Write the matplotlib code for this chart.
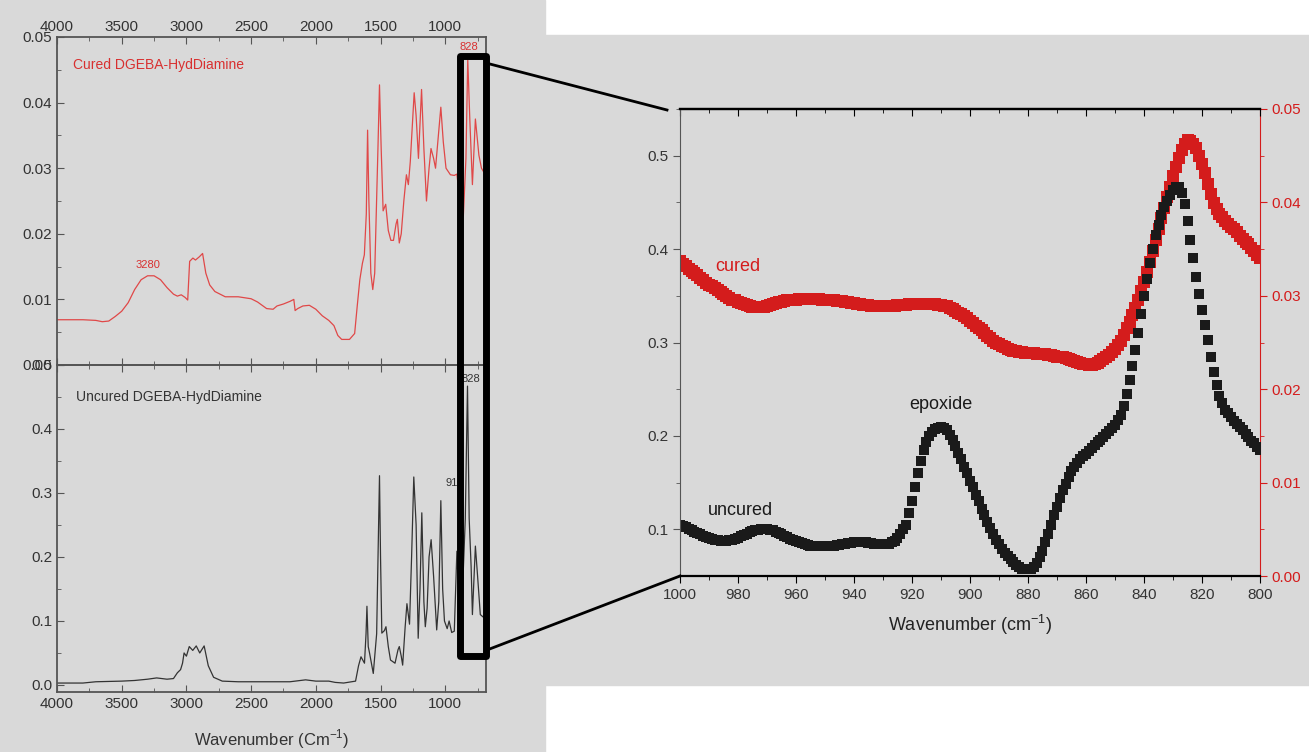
import numpy as np
import matplotlib
matplotlib.use("Agg")
import matplotlib.pyplot as plt
from matplotlib.patches import Rectangle
from matplotlib.lines import Line2D
from matplotlib.ticker import MultipleLocator, FormatStrFormatter

plt.rcParams['font.family'] = ['Liberation Sans', 'DejaVu Sans']

# ---- overview spectra (left panels) ----
cured_wn = [4000, 3900, 3800, 3700, 3650, 3600, 3550, 3500, 3450, 3400, 3350, 3300, 3250, 3200,
            3150, 3100, 3070, 3040, 3010, 2990, 2975, 2950, 2930, 2900, 2875, 2850, 2820, 2780,
            2700, 2600, 2500, 2450, 2380, 2330, 2300, 2250, 2200, 2170, 2160, 2140, 2100, 2050,
            2000, 1950, 1900, 1860, 1830, 1800, 1740, 1700, 1680, 1660, 1640, 1625, 1610, 1600,
            1590, 1575, 1560, 1545, 1520, 1508, 1495, 1480, 1460, 1440, 1420, 1400, 1380, 1370,
            1355, 1340, 1320, 1300, 1285, 1270, 1240, 1225, 1207, 1183, 1165, 1145, 1125, 1110,
            1090, 1075, 1034, 1015, 994, 960, 930, 910, 880, 860, 840, 826, 810, 790, 767, 740,
            720, 690]
cured_abs = [0.0069, 0.0069, 0.0069, 0.0068, 0.0066, 0.0067, 0.0074, 0.0082, 0.0095, 0.0115,
             0.0130, 0.0136, 0.0136, 0.0130, 0.0118, 0.0108, 0.0105, 0.0107, 0.0103, 0.0099,
             0.0158, 0.0163, 0.0160, 0.0165, 0.0170, 0.0140, 0.0122, 0.0112, 0.0104, 0.0104,
             0.0101, 0.0096, 0.0086, 0.0085, 0.0090, 0.0093, 0.0097, 0.0100, 0.0083, 0.0086,
             0.0090, 0.0091, 0.0085, 0.0075, 0.0068, 0.0060, 0.0045, 0.0039, 0.0039, 0.0048,
             0.0090, 0.0130, 0.0155, 0.0168, 0.0230, 0.0358, 0.0250, 0.0140, 0.0115, 0.0140,
             0.0330, 0.0427, 0.0330, 0.0235, 0.0245, 0.0205, 0.0190, 0.0190, 0.0215, 0.0222,
             0.0186, 0.0200, 0.0250, 0.0290, 0.0275, 0.0310, 0.0415, 0.0380, 0.0315, 0.0420,
             0.0330, 0.0250, 0.0300, 0.0330, 0.0315, 0.0300, 0.0393, 0.0340, 0.0300, 0.0290,
             0.0289, 0.0291, 0.0239, 0.0227, 0.0315, 0.0466, 0.0374, 0.0275, 0.0375, 0.0320,
             0.0300, 0.0290]

uncured_wn = [4000, 3800, 3700, 3500, 3400, 3300, 3230, 3150, 3100, 3070, 3045, 3030, 3018, 3000,
              2978, 2951, 2924, 2897, 2863, 2831, 2790, 2723, 2600, 2400, 2200, 2079, 2000, 1900,
              1850, 1785, 1693, 1670, 1651, 1624, 1612, 1605, 1595, 1585, 1556, 1530, 1515, 1508,
              1500, 1490, 1470, 1458, 1440, 1423, 1388, 1365, 1355, 1340, 1329, 1310, 1296, 1276,
              1260, 1243, 1225, 1209, 1195, 1181, 1165, 1154, 1140, 1125, 1109, 1090, 1066, 1050,
              1034, 1020, 1006, 985, 970, 950, 930, 910, 880, 860, 845, 828, 815, 800, 790, 767,
              750, 729, 700]
uncured_abs = [0.003, 0.003, 0.005, 0.006, 0.007, 0.009, 0.011, 0.009, 0.010, 0.019, 0.024, 0.034,
               0.050, 0.045, 0.060, 0.054, 0.061, 0.050, 0.061, 0.030, 0.012, 0.006, 0.005, 0.005,
               0.005, 0.008, 0.006, 0.006, 0.004, 0.003, 0.006, 0.030, 0.044, 0.034, 0.080, 0.123,
               0.060, 0.050, 0.018, 0.080, 0.250, 0.327, 0.200, 0.081, 0.085, 0.091, 0.060, 0.039,
               0.034, 0.055, 0.060, 0.045, 0.031, 0.090, 0.127, 0.095, 0.200, 0.325, 0.250, 0.073,
               0.150, 0.269, 0.130, 0.091, 0.120, 0.200, 0.227, 0.170, 0.086, 0.130, 0.288, 0.150,
               0.100, 0.088, 0.100, 0.082, 0.084, 0.209, 0.057, 0.181, 0.260, 0.467, 0.260, 0.185,
               0.110, 0.217, 0.170, 0.110, 0.105]

# ---- zoomed region 1000-800 cm-1 (right panel), 1 cm-1 steps ----
zoom_wn = np.arange(1000, 799, -1)
zoom_uncured = [
    0.105, 0.1035, 0.102, 0.1005, 0.099, 0.0975, 0.096, 0.0945, 0.093, 0.092,
    0.091, 0.090, 0.089, 0.0885, 0.088, 0.088, 0.088, 0.0885, 0.089, 0.090,
    0.091, 0.0925, 0.094, 0.0955, 0.097, 0.098, 0.099, 0.0995, 0.100, 0.100,
    0.100, 0.0995, 0.099, 0.0975, 0.096, 0.0945, 0.093, 0.0915, 0.090, 0.0885,
    0.087, 0.086, 0.085, 0.084, 0.083, 0.0825, 0.082, 0.082, 0.082, 0.082,
    0.082, 0.082, 0.082, 0.0825, 0.083, 0.0835, 0.084, 0.0845, 0.085, 0.0855,
    0.086, 0.086, 0.086, 0.086, 0.086, 0.0855, 0.085, 0.0845, 0.084, 0.084,
    0.084, 0.084, 0.084, 0.086, 0.088, 0.091, 0.095, 0.100, 0.105, 0.117,
    0.130, 0.145, 0.160, 0.173, 0.185, 0.193, 0.200, 0.204, 0.207, 0.208,
    0.209, 0.208, 0.206, 0.201, 0.196, 0.189, 0.182, 0.175, 0.167, 0.160,
    0.152, 0.145, 0.137, 0.130, 0.122, 0.115, 0.108, 0.101, 0.095, 0.089,
    0.084, 0.079, 0.075, 0.071, 0.068, 0.065, 0.062, 0.060, 0.058, 0.057,
    0.057, 0.058, 0.060, 0.064, 0.070, 0.077, 0.086, 0.095, 0.105, 0.115,
    0.124, 0.133, 0.142, 0.149, 0.156, 0.162, 0.167, 0.171, 0.175, 0.178,
    0.181, 0.184, 0.187, 0.190, 0.193, 0.196, 0.199, 0.202, 0.205, 0.208,
    0.212, 0.217, 0.222, 0.232, 0.245, 0.260, 0.275, 0.292, 0.310, 0.330,
    0.350, 0.368, 0.385, 0.400, 0.415, 0.426, 0.437, 0.445, 0.452, 0.458,
    0.463, 0.466, 0.467, 0.460, 0.448, 0.430, 0.410, 0.390, 0.370, 0.352,
    0.335, 0.319, 0.303, 0.285, 0.268, 0.255, 0.243, 0.235, 0.228, 0.224,
    0.220, 0.216, 0.213, 0.209, 0.206, 0.202, 0.199, 0.195, 0.192, 0.188,
    0.185]
zoom_cured = [
    0.0337, 0.0334, 0.0332, 0.0329, 0.0327, 0.0324, 0.0322, 0.0319, 0.0317, 0.0314,
    0.0312, 0.0310, 0.0308, 0.0306, 0.0304, 0.0302, 0.0300, 0.0298, 0.0296, 0.0295,
    0.0293, 0.0292, 0.0291, 0.0290, 0.0289, 0.0288, 0.0288, 0.0288, 0.0288, 0.0288,
    0.0289, 0.0290, 0.0291, 0.0292, 0.0293, 0.0293, 0.0294, 0.0295, 0.0295, 0.0296,
    0.0296, 0.0297, 0.0297, 0.0297, 0.0297, 0.0297, 0.0297, 0.0297, 0.0297, 0.0296,
    0.0296, 0.0296, 0.0295, 0.0295, 0.0294, 0.0294, 0.0294, 0.0293, 0.0293, 0.0292,
    0.0292, 0.0291, 0.0291, 0.0290, 0.0290, 0.0290, 0.0289, 0.0289, 0.0289, 0.0289,
    0.0289, 0.0289, 0.0289, 0.0289, 0.0289, 0.0290, 0.0290, 0.0290, 0.0290, 0.0291,
    0.0291, 0.0291, 0.0291, 0.0291, 0.0291, 0.0291, 0.0291, 0.0291, 0.0291, 0.0290,
    0.0290, 0.0289, 0.0289, 0.0287, 0.0286, 0.0284, 0.0282, 0.0280, 0.0278, 0.0276,
    0.0273, 0.0271, 0.0268, 0.0266, 0.0263, 0.0260, 0.0257, 0.0255, 0.0252, 0.0250,
    0.0248, 0.0246, 0.0245, 0.0243, 0.0242, 0.0241, 0.0241, 0.0240, 0.0240, 0.0239,
    0.0239, 0.0239, 0.0239, 0.0238, 0.0238, 0.0238, 0.0238, 0.0237, 0.0237, 0.0236,
    0.0235, 0.0234, 0.0234, 0.0233, 0.0232, 0.0231, 0.0230, 0.0229, 0.0228, 0.0227,
    0.0227, 0.0226, 0.0226, 0.0227, 0.0228, 0.0230, 0.0232, 0.0234, 0.0237, 0.0240,
    0.0243, 0.0247, 0.0252, 0.0258, 0.0265, 0.0272, 0.0279, 0.0287, 0.0296, 0.0305,
    0.0315, 0.0325, 0.0336, 0.0348, 0.0360, 0.0371, 0.0383, 0.0394, 0.0406, 0.0417,
    0.0428, 0.0438, 0.0448, 0.0456, 0.0463, 0.0467, 0.0466, 0.0463, 0.0458, 0.0450,
    0.0441, 0.0431, 0.0420, 0.0409, 0.0399, 0.0393, 0.0388, 0.0384, 0.0380, 0.0377,
    0.0374, 0.0371, 0.0368, 0.0364, 0.0361, 0.0358, 0.0355, 0.0351, 0.0348, 0.0344,
    0.0340]

bg = '#d9d9d9'
red = '#d41c1c'
W, H = 1309, 752


def fr(x0, y0, x1, y1):
    # pixel box (top-left origin) -> figure fraction rect
    return [x0 / W, 1 - y1 / H, (x1 - x0) / W, (y1 - y0) / H]


fig = plt.figure(figsize=(W / 100, H / 100), dpi=100)
fig.patch.set_facecolor('white')
fig.add_artist(Rectangle((0, 0), 545 / W, 1, transform=fig.transFigure, color=bg, zorder=-5))
fig.add_artist(Rectangle((545 / W, 1 - 685 / H), 764 / W, 650 / H, transform=fig.transFigure,
                         color=bg, zorder=-5))

# ---- left: overview panels ----
ax1 = fig.add_axes(fr(57, 37, 486, 365))
ax2 = fig.add_axes(fr(57, 365, 486, 692))
for ax in (ax1, ax2):
    ax.set_facecolor('none')
    ax.set_xlim(4000, 685)
    ax.xaxis.set_major_locator(MultipleLocator(500))
    ax.xaxis.set_minor_locator(MultipleLocator(250))
    for s in ax.spines.values():
        s.set_color('#555555')
        s.set_linewidth(1.3)
    ax.tick_params(which='both', direction='in', top=True, bottom=True, left=True,
                   right=False, colors='#555555', labelcolor='#333333', labelsize=11)
    ax.tick_params(which='major', length=5)
    ax.tick_params(which='minor', length=3)

ax1.plot(cured_wn, cured_abs, color='#e04848', lw=0.9)
ax1.set_ylim(0, 0.05)
ax1.yaxis.set_major_locator(MultipleLocator(0.01))
ax1.yaxis.set_minor_locator(MultipleLocator(0.005))
ax1.yaxis.set_major_formatter(FormatStrFormatter('%.2f'))
ax1.tick_params(axis='x', labeltop=True, labelbottom=False, pad=2)
ax1.text(0.037, 0.915, 'Cured DGEBA-HydDiamine', transform=ax1.transAxes, color='#d83030',
         fontsize=10, va='center')
ax1.text(3298, 0.0152, '3280', color='#d83030', fontsize=8, ha='center', va='center')
ax1.text(815, 0.0485, '828', color='#d83030', fontsize=8, ha='center', va='center')

ax2.plot(uncured_wn, uncured_abs, color='#333333', lw=0.9)
ax2.set_ylim(-0.011, 0.5)
ax2.yaxis.set_major_locator(MultipleLocator(0.1))
ax2.yaxis.set_minor_locator(MultipleLocator(0.05))
ax2.yaxis.set_major_formatter(FormatStrFormatter('%.1f'))
ax2.text(0.045, 0.902, 'Uncured DGEBA-HydDiamine', transform=ax2.transAxes, color='#333333',
         fontsize=10, va='center')
ax2.text(925, 0.315, '910', color='#333333', fontsize=8, ha='center', va='center')
ax2.text(800, 0.478, '828', color='#333333', fontsize=8, ha='center', va='center')
ax2.set_xlabel('Wavenumber (Cm$^{\\mathregular{-1}}$)', fontsize=12, color='#333333', labelpad=12)

# ---- right: zoomed region ----
ax3 = fig.add_axes(fr(680, 109, 1260, 576))
ax4 = ax3.twinx()
ax3.set_zorder(ax4.get_zorder() + 1)
ax3.set_facecolor('none')
ax4.set_facecolor('none')

ax4.plot(zoom_wn, zoom_cured, 's', ms=8.5, color=red, mew=0)
ax3.plot(zoom_wn, zoom_uncured, 's', ms=7, color='#1a1a1a', mew=0)

ax3.set_xlim(1000, 800)
ax3.set_ylim(0.05, 0.55)
ax4.set_ylim(0, 0.05)
ax3.xaxis.set_major_locator(MultipleLocator(20))
ax3.xaxis.set_minor_locator(MultipleLocator(10))
ax3.yaxis.set_major_locator(MultipleLocator(0.1))
ax3.yaxis.set_minor_locator(MultipleLocator(0.05))
ax4.yaxis.set_major_locator(MultipleLocator(0.01))
ax4.yaxis.set_minor_locator(MultipleLocator(0.005))
ax4.yaxis.set_major_formatter(FormatStrFormatter('%.2f'))

ax3.spines['right'].set_visible(False)
ax3.spines['left'].set_color('#555555')
ax3.spines['top'].set_linewidth(1.6)
ax3.spines['bottom'].set_linewidth(1.6)
for k in ('left', 'top', 'bottom'):
    ax4.spines[k].set_visible(False)
ax4.spines['right'].set_color(red)

ax3.tick_params(axis='x', which='both', direction='out', labelsize=11, labelcolor='#333333')
ax3.tick_params(axis='y', which='both', direction='out', labelsize=11, colors='#555555',
                labelcolor='#333333')
ax3.tick_params(which='major', length=5)
ax3.tick_params(which='minor', length=3)
ax4.tick_params(axis='y', which='both', direction='out', labelsize=11, colors=red)
ax4.tick_params(which='major', length=5)
ax4.tick_params(which='minor', length=3)

top = ax3.secondary_xaxis('top')
top.xaxis.set_major_locator(MultipleLocator(20))
top.xaxis.set_minor_locator(MultipleLocator(10))
top.tick_params(which='both', direction='in', labeltop=False)
top.tick_params(which='major', length=5)
top.tick_params(which='minor', length=3)
top.spines['top'].set_linewidth(1.6)

ax3.text(988, 0.381, 'cured', color=red, fontsize=13, va='center')
ax3.text(990.3, 0.120, 'uncured', color='#1a1a1a', fontsize=13, va='center')
ax3.text(910, 0.234, 'epoxide', color='#1a1a1a', fontsize=13, ha='center', va='center')
ax3.set_xlabel('Wavenumber (cm$^{\\mathregular{-1}}$)', fontsize=13, color='#222222', labelpad=8)

# ---- zoom box and connector lines ----
fig.add_artist(Rectangle((459.5 / W, 1 - 656 / H), 26.5 / W, 600.5 / H, fill=False,
                         ec='black', lw=5, joinstyle='round', transform=fig.transFigure,
                         zorder=10))
fig.add_artist(Line2D([486 / W, 667 / W], [1 - 63 / H, 1 - 110 / H], color='black', lw=2,
                      transform=fig.transFigure, zorder=10))
fig.add_artist(Line2D([487 / W, 680 / W], [1 - 650 / H, 1 - 576 / H], color='black', lw=2,
                      transform=fig.transFigure, zorder=10))

fig.savefig('out.png', dpi=100, facecolor=fig.get_facecolor())
